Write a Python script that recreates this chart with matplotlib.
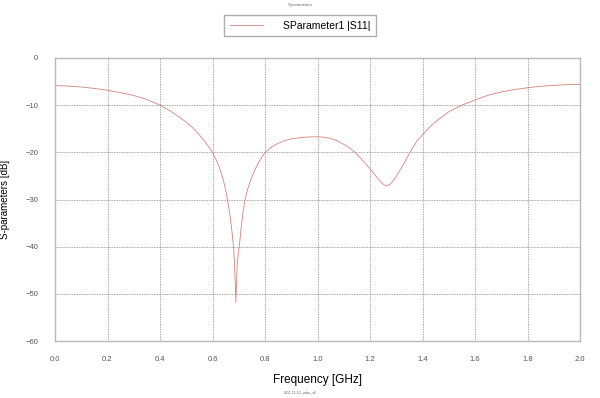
import numpy as np
import matplotlib
matplotlib.use("Agg")
import matplotlib.pyplot as plt

plt.rcParams['font.family'] = ['Liberation Sans', 'DejaVu Sans']

# S11
freq = [0.0, 0.05, 0.1, 0.15, 0.2, 0.25, 0.3, 0.35, 0.4, 0.45, 0.5, 0.525,
        0.55, 0.575, 0.6, 0.61, 0.62, 0.63, 0.64, 0.65, 0.657, 0.665, 0.672,
        0.68, 0.684, 0.687, 0.689, 0.691, 0.694, 0.698, 0.702, 0.71, 0.718,
        0.724, 0.735, 0.75, 0.765, 0.78, 0.8, 0.825, 0.85, 0.875, 0.9, 0.925,
        0.95, 0.975, 1.0, 1.025, 1.05, 1.075, 1.1, 1.12, 1.143, 1.17, 1.2,
        1.22, 1.24, 1.25, 1.258, 1.265, 1.272, 1.28, 1.29, 1.3, 1.314, 1.334,
        1.352, 1.375, 1.4, 1.425, 1.45, 1.5, 1.55, 1.6, 1.65, 1.7, 1.75, 1.8,
        1.85, 1.9, 1.95, 2.0]
s11 = [-5.85, -5.95, -6.15, -6.45, -6.85, -7.35, -7.95, -8.8, -10.0, -11.6,
       -13.6, -14.8, -16.3, -18.0, -20.0, -21.1, -22.3, -23.8, -25.6, -27.9,
       -30.0, -32.8, -35.7, -40.0, -43.6, -48.5, -51.8, -48.5, -44.0, -41.5,
       -40.0, -35.5, -32.0, -30.0, -27.6, -25.2, -23.3, -21.7, -20.0, -18.9,
       -18.1, -17.5, -17.15, -16.95, -16.8, -16.72, -16.7, -16.8, -17.05,
       -17.55, -18.3, -19.0, -20.0, -21.6, -23.5, -24.9, -26.2, -26.75, -27.0,
       -27.1, -26.95, -26.6, -25.9, -25.1, -23.8, -21.9, -20.0, -17.9, -16.3,
       -14.8, -13.5, -11.4, -10.0, -8.9, -7.9, -7.2, -6.7, -6.3, -6.0, -5.8,
       -5.65, -5.6]

xticks = [0.0, 0.2, 0.4, 0.6, 0.8, 1.0, 1.2, 1.4, 1.6, 1.8, 2.0]
yticks = [0, -10, -20, -30, -40, -50, -60]

fig = plt.figure(figsize=(6, 3.98), dpi=100)
ax = fig.add_axes([55/600, 1 - 341/398, 525/600, 283/398])

ax.plot(freq, s11, color='#d4847c', lw=0.6, label='SParameter1 |S11|')

ax.set_xlim(0, 2)
ax.set_ylim(-60, 0)
ax.set_xticks(xticks)
ax.set_xticklabels(['%.1f' % v for v in xticks])
ax.set_yticks(yticks)
ax.tick_params(length=0, labelsize=5.5, labelcolor='#555555')
ax.tick_params(axis='x', pad=11)
ax.tick_params(axis='y', pad=12)
ax.grid(True, color='#888888', ls=(0, (1, 1)), lw=0.6)
for s in ax.spines.values():
    s.set_color('#b8b8b8')
    s.set_linewidth(1.0)

ax.set_xlabel('Frequency [GHz]', fontsize=8.5, labelpad=8)
ax.set_ylabel('S-parameters [dB]', fontsize=7, labelpad=11)

# legend box sits above the axes, centred
fig.legend(loc='upper center', bbox_to_anchor=(0.5, 1 - 15/398),
           fontsize=7.5, frameon=True, fancybox=False, edgecolor='#999999',
           handlelength=3.2, borderpad=0.55, handletextpad=1.9,
           borderaxespad=0)

fig.text(0.5, 1 - 5/398, 'S-parameters', ha='center', va='center',
         fontsize=3, color='#666666')
fig.text(0.5, 1 - 392/398, '2011-11-10_vobu_s6', ha='center', va='center',
         fontsize=2.5, color='#666666')

fig.savefig('out.png', dpi=100)
